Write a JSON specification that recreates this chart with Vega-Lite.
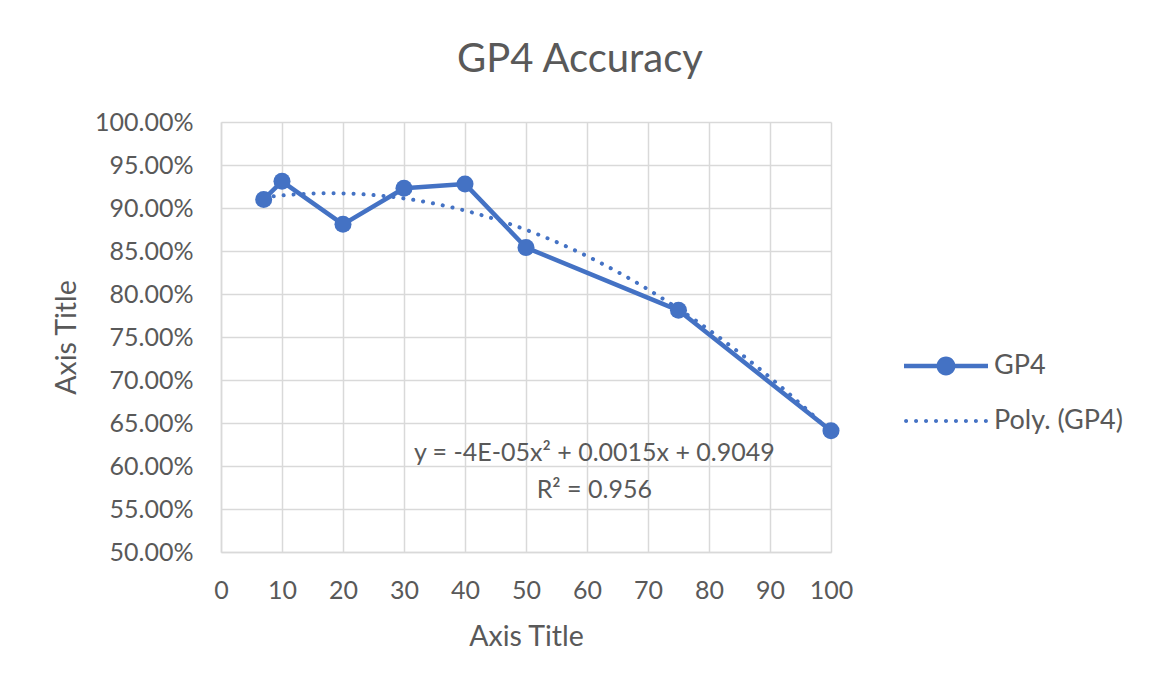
{
  "$schema": "https://vega.github.io/schema/vega-lite/v6.json",
  "width": 610,
  "height": 430,
  "autosize": {"type": "none"},
  "padding": {"left": 221, "top": 122, "right": 320, "bottom": 140},
  "background": "white",
  "title": {"text": "GP4 Accuracy", "font": "Lato", "fontSize": 40, "fontWeight": "normal", "color": "#595959", "anchor": "middle", "frame": "group", "dx": 54, "baseline": "alphabetic", "offset": -2},
  "config": {
    "view": {"stroke": null},
    "font": "Lato",
    "axis": {
      "grid": true, "gridColor": "#d9d9d9", "gridWidth": 1.5,
      "domainColor": "#d9d9d9", "domainWidth": 1.5,
      "ticks": false, "tickSize": 0,
      "labelFont": "Lato", "labelFontSize": 25, "labelColor": "#595959",
      "labelOverlap": false, "labelFlush": false, "labelBound": false,
      "titleFont": "Lato", "titleFontSize": 28.5, "titleFontWeight": "normal", "titleColor": "#595959"
    }
  },
  "data": {"values": [
    {"x": 7, "accuracy": 0.910, "series": "GP4"},
    {"x": 10, "accuracy": 0.931, "series": "GP4"},
    {"x": 20, "accuracy": 0.881, "series": "GP4"},
    {"x": 30, "accuracy": 0.923, "series": "GP4"},
    {"x": 40, "accuracy": 0.928, "series": "GP4"},
    {"x": 50, "accuracy": 0.854, "series": "GP4"},
    {"x": 75, "accuracy": 0.781, "series": "GP4"},
    {"x": 100, "accuracy": 0.641, "series": "GP4"}
  ]},
  "encoding": {
    "x": {"field": "x", "type": "quantitative", "scale": {"domain": [0, 100], "nice": false, "zero": false},
      "axis": {"title": "Axis Title", "values": [0, 10, 20, 30, 40, 50, 60, 70, 80, 90, 100], "labelPadding": 26, "titlePadding": 19}},
    "y": {"field": "accuracy", "type": "quantitative", "scale": {"domain": [0.5, 1], "nice": false, "zero": false},
      "axis": {"title": "Axis Title", "values": [0.5, 0.55, 0.6, 0.65, 0.7, 0.75, 0.8, 0.85, 0.9, 0.95, 1], "format": ".2%", "labelPadding": 28, "titlePadding": 13}}
  },
  "layer": [
    {
      "transform": [{"regression": "accuracy", "on": "x", "method": "poly", "order": 2}],
      "mark": {"type": "line", "color": "#4472C4", "strokeWidth": 4, "strokeDash": [0.1, 9.9], "strokeCap": "round"}
    },
    {
      "mark": {"type": "line", "color": "#4472C4", "strokeWidth": 4.5, "strokeJoin": "round"}
    },
    {
      "mark": {"type": "point", "filled": true, "color": "#4472C4", "size": 290, "opacity": 1, "strokeWidth": 0}
    },
    {
      "mark": {"type": "point", "filled": true, "color": "#4472C4", "strokeWidth": 0, "opacity": 0},
      "encoding": {
        "shape": {"field": "series", "type": "nominal",
          "scale": {"domain": ["GP4", "Poly. (GP4)"],
            "range": [
              "M -1 -0.054 L -0.2 -0.054 L -0.2 0.054 L -1 0.054 Z M 0.2 -0.054 L 1 -0.054 L 1 0.054 L 0.2 0.054 Z M -0.225 0 A 0.225 0.225 0 1 1 0.225 0 A 0.225 0.225 0 1 1 -0.225 0 Z",
              "M -0.998 0 A 0.048 0.048 0 1 1 -0.902 0 A 0.048 0.048 0 1 1 -0.998 0 Z M -0.7605 0 A 0.048 0.048 0 1 1 -0.6645 0 A 0.048 0.048 0 1 1 -0.7605 0 Z M -0.523 0 A 0.048 0.048 0 1 1 -0.427 0 A 0.048 0.048 0 1 1 -0.523 0 Z M -0.2855 0 A 0.048 0.048 0 1 1 -0.1895 0 A 0.048 0.048 0 1 1 -0.2855 0 Z M -0.048 0 A 0.048 0.048 0 1 1 0.048 0 A 0.048 0.048 0 1 1 -0.048 0 Z M 0.1895 0 A 0.048 0.048 0 1 1 0.2855 0 A 0.048 0.048 0 1 1 0.1895 0 Z M 0.427 0 A 0.048 0.048 0 1 1 0.523 0 A 0.048 0.048 0 1 1 0.427 0 Z M 0.6645 0 A 0.048 0.048 0 1 1 0.7605 0 A 0.048 0.048 0 1 1 0.6645 0 Z M 0.902 0 A 0.048 0.048 0 1 1 0.998 0 A 0.048 0.048 0 1 1 0.902 0 Z"
            ]},
          "legend": {
            "title": null, "orient": "none", "legendX": 683, "legendY": 202, "padding": 0,
            "labelFont": "Lato", "labelFontSize": 27, "labelColor": "#595959", "labelOffset": 6,
            "symbolSize": 7056, "rowPadding": -6,
            "symbolStrokeWidth": 0, "symbolFillColor": "#4472C4", "symbolOpacity": 1,
            "encode": {"symbols": {"update": {
              "opacity": {"value": 1}, "fill": {"value": "#4472C4"}, "fillOpacity": {"value": 1}, "size": {"value": 7056}
            }}}
          }
        }
      }
    },
    {
      "transform": [{"filter": "datum.x == 100"}],
      "mark": {"type": "text", "text": ["y = -4E-05x² + 0.0015x + 0.9049", "R² = 0.956"], "font": "Lato", "fontSize": 25, "color": "#595959", "align": "center", "baseline": "middle", "lineHeight": 37},
      "encoding": {"x": {"datum": 61.2}, "y": {"datum": 0.615}}
    }
  ]
}
